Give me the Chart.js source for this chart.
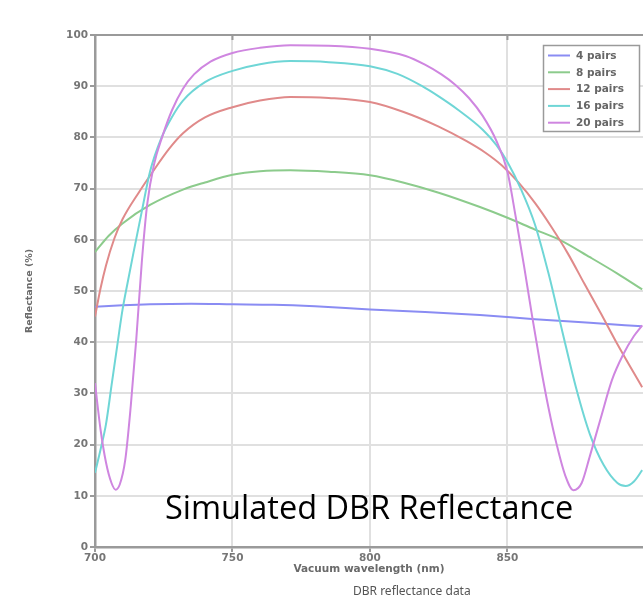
<!DOCTYPE html>
<html>
<head>
<meta charset="utf-8">
<title>DBR reflectance</title>
<script src="https://cdn.jsdelivr.net/npm/chart.js@4.4.0/dist/chart.umd.min.js"></script>
<style>
  html, body { margin: 0; padding: 0; background: #fff; }
  #wrap { position: relative; width: 643px; height: 603px; overflow: hidden; }
  #overlay { position: absolute; left: 165px; top: 490px; font-family: 'Open Sans'; font-size: 32.5px; line-height: 33px; color: #000; white-space: nowrap; }
  #caption { position: absolute; left: 353px; top: 583px; font-family: 'Noto Sans'; font-size: 12px; line-height: 16px; color: #555; white-space: nowrap; }
</style>
</head>
<body>
<div id="wrap">
  <canvas id="dbrChart" width="643" height="603"></canvas>
  <div id="overlay">Simulated DBR Reflectance</div>
  <div id="caption">DBR reflectance data</div>
</div>
<script>
// 波長(nm)と反射率(%) 各ペア数ごと
var wl4 = [700, 710, 720, 735, 750, 765, 780, 800, 820, 840, 860, 880, 899];
var r4  = [46.9, 47.2, 47.4, 47.5, 47.4, 47.3, 47.0, 46.4, 45.9, 45.3, 44.5, 43.8, 43.1];

var wl8 = [700, 705, 710, 720, 732, 740, 750, 760, 771, 785, 800, 812, 825, 840, 850, 860, 869, 880, 890, 899];
var r8  = [57.6, 60.8, 63.2, 66.8, 69.8, 71.2, 72.7, 73.4, 73.6, 73.3, 72.6, 71.2, 69.2, 66.4, 64.3, 62.0, 60.0, 56.6, 53.4, 50.3];

var wl12 = [700, 702, 704, 707, 710, 716, 721, 727, 732, 740, 750, 760, 771, 785, 800, 812, 825, 835, 842, 848, 854, 860, 866, 872, 878, 884, 890, 899];
var r12  = [45.0, 50.5, 55.0, 60.2, 64.0, 69.3, 73.3, 77.8, 80.8, 83.9, 85.9, 87.2, 87.9, 87.7, 86.9, 85.0, 82.1, 79.3, 77.0, 74.5, 71.2, 67.2, 62.5, 57.3, 51.4, 45.6, 39.6, 31.2];

var wl16 = [700, 702, 704, 706, 708, 710, 712, 714, 717, 720, 724, 728, 732, 740, 750, 760, 771, 785, 800, 810, 819, 825, 832, 841, 846, 850, 855, 860, 865, 870, 875, 880, 885, 890, 893, 896, 899];
var r16  = [14.5, 19.0, 24.0, 31.5, 39.0, 46.3, 52.0, 57.5, 65.5, 73.3, 79.7, 84.0, 87.2, 90.8, 93.0, 94.3, 94.9, 94.7, 93.9, 92.4, 90.0, 88.0, 85.4, 81.5, 78.5, 75.2, 69.8, 63.0, 53.3, 42.0, 31.0, 22.0, 16.0, 12.5, 11.9, 12.8, 15.0];

var wl20 = [700, 702, 704, 706, 707.5, 709, 711, 713, 715, 717, 719, 721.5, 724.5, 728, 732, 736, 742, 750, 760, 771, 785, 800, 813, 820, 826, 831, 836, 841, 846, 850, 853, 856, 859, 862, 865, 868, 871, 874, 877, 880, 884, 888, 892, 896, 899];
var r20  = [32.0, 23.0, 16.5, 12.5, 11.2, 12.2, 17.0, 27.5, 40.5, 55.5, 67.0, 74.8, 80.2, 85.3, 89.5, 92.3, 94.8, 96.5, 97.5, 98.0, 97.9, 97.3, 95.9, 94.2, 92.3, 90.3, 87.7, 84.2, 79.3, 73.3, 64.5, 55.0, 45.0, 35.5, 27.0, 19.8, 14.0, 11.1, 12.5, 17.8, 25.3, 32.6, 37.5, 41.2, 43.3];

var seriesNames  = ['4 pairs', '8 pairs', '12 pairs', '16 pairs', '20 pairs'];
var seriesColors = ['#8a8cf3', '#8ccb8c', '#e08a8a', '#6fd6d6', '#cf86e0'];
var xTickValues = [700, 750, 800, 850];
var yTickValues = [0, 10, 20, 30, 40, 50, 60, 70, 80, 90, 100];

var wlList = [wl4, wl8, wl12, wl16, wl20];
var rList = [r4, r8, r12, r16, r20];

var datasets = [];
for (var i = 0; i < seriesNames.length; i++) {
    var pts = [];
    for (var j = 0; j < wlList[i].length; j++) {
        pts.push({ x: wlList[i][j], y: rList[i][j] });
    }
    datasets.push({
        label: seriesNames[i],
        data: pts,
        borderColor: seriesColors[i],
        backgroundColor: seriesColors[i],
        borderWidth: 2,
        pointRadius: 0,
        fill: false,
        cubicInterpolationMode: 'monotone',
        order: seriesNames.length - i
    });
}

var tickFont = { family: 'DejaVu Sans', size: 10.5, weight: 'bold' };

//上枠線と凡例を描く
var frameAndLegend = {
    id: 'frameAndLegend',
    afterDraw: function (chart) {
        var ctx = chart.ctx;
        var area = chart.chartArea;
        var xs = chart.scales.x;
        ctx.save();
        ctx.strokeStyle = '#9a9a9a';
        ctx.lineWidth = 2;
        ctx.beginPath();
        ctx.moveTo(area.left, area.top);
        ctx.lineTo(chart.width, area.top);
        xTickValues.forEach(function (v) {
            var px = xs.getPixelForValue(v);
            ctx.moveTo(px, area.top);
            ctx.lineTo(px, area.top + 5);
        });
        ctx.stroke();

        // legend
        var bx = 543.5, by = 45.5, bw = 96, bh = 86;
        ctx.fillStyle = '#fff';
        ctx.fillRect(bx, by, bw, bh);
        ctx.strokeStyle = '#9a9a9a';
        ctx.lineWidth = 1.5;
        ctx.strokeRect(bx, by, bw, bh);
        ctx.font = 'bold 10.5px "DejaVu Sans"';
        ctx.textBaseline = 'middle';
        chart.data.datasets.forEach(function (ds, k) {
            var y = 55.5 + k * 16.8;
            ctx.strokeStyle = ds.borderColor;
            ctx.lineWidth = 2;
            ctx.beginPath();
            ctx.moveTo(548, y);
            ctx.lineTo(570, y);
            ctx.stroke();
            ctx.fillStyle = '#666';
            ctx.fillText(ds.label, 576, y + 0.5);
        });
        ctx.restore();
    }
};

var config = {
    type: 'line',
    data: { datasets: datasets },
    options: {
        responsive: false,
        animation: false,
        layout: { padding: { top: 35, left: 0, right: 0, bottom: 0 } },
        plugins: {
            legend: { display: false },
            tooltip: { enabled: false }
        },
        scales: {
            x: {
                type: 'linear',
                min: 700,
                max: 899.3,
                afterBuildTicks: function (axis) {
                    axis.ticks = xTickValues.map(function (v) { return { value: v }; });
                },
                afterFit: function (axis) { axis.height = 56; },
                ticks: { color: '#767676', font: tickFont, padding: 0, maxRotation: 0 },
                grid: { color: '#e0e0e0', lineWidth: 2, tickLength: 5, tickColor: '#9a9a9a' },
                border: { color: '#9a9a9a', width: 2.5 },
                title: {
                    display: true,
                    text: 'Vacuum wavelength (nm)',
                    color: '#6a6a6a',
                    font: { family: 'DejaVu Sans', size: 10.5, weight: 'bold' },
                    padding: { top: 0, bottom: 27 }
                }
            },
            y: {
                min: 0,
                max: 100,
                afterBuildTicks: function (axis) {
                    axis.ticks = yTickValues.map(function (v) { return { value: v }; });
                },
                afterFit: function (axis) { axis.width = 95; },
                ticks: { color: '#767676', font: tickFont, padding: 2 },
                grid: { color: '#e0e0e0', lineWidth: 2, tickLength: 5, tickColor: '#9a9a9a' },
                border: { color: '#9a9a9a', width: 2.5 },
                title: {
                    display: true,
                    text: 'Reflectance (%)',
                    color: '#6a6a6a',
                    font: { family: 'DejaVu Sans', size: 9.5, weight: 'bold' },
                    padding: { top: 24, bottom: 0 }
                }
            }
        }
    },
    plugins: [frameAndLegend]
};

//chart図を作成する
var dbrChart = new Chart(document.getElementById('dbrChart'), config);
</script>
</body>
</html>
